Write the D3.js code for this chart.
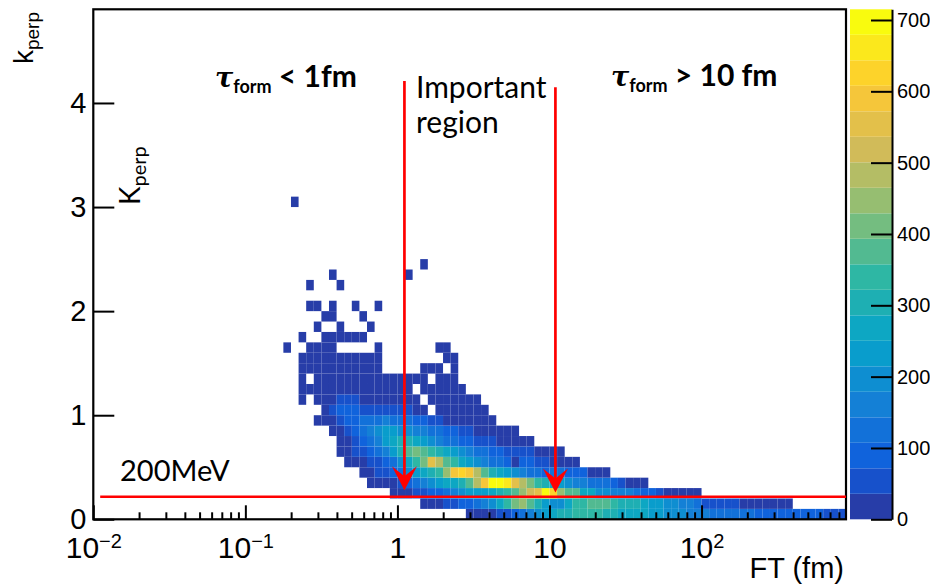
<!DOCTYPE html>
<html>
<head>
<meta charset="utf-8">
<script src="https://cdn.jsdelivr.net/npm/d3@7"></script>
<style>
  body { margin: 0; background: #fff; }
  svg { display: block; }
</style>
</head>
<body>
<div id="main"></div>
<script>
var ctx = {
    w: 930, h: 586,
    left: 93.3, right: 846, top: 9.3, bottom: 519.3,
    palX0: 850, palX1: 892,
    rootFont: "'Liberation Sans', Arial, sans-serif",
    noteFont: "Lato, 'Open Sans', sans-serif"
};

// binning of the 2D histogram (log x bins, 20 per decade; k_perp bins of 0.1)
var xLow = 0.01, binsPerDecade = 20, nBinsX = 99;
var yBinWidth = 0.1, yMax = 4.9;
var zMax = 715, nContours = 20;

var xMajorTicks = [0.01, 0.1, 1, 10, 100];
var xTickBase = ["10", "10", "1", "10", "10"];
var xTickExp = ["\u22122", "\u22121", "", "", "2"];
var yTicks = [0, 1, 2, 3, 4];
var zTicks = [0, 100, 200, 300, 400, 500, 600, 700];

// first filled x-bin of every k_perp row (row k covers k*0.1 .. (k+1)*0.1)
var rowStart = [49, 43, 39, 36, 35, 33, 32, 32, 31, 29, 30, 27, 27, 27, 27, 27,
                25, 27, 29, 30, 28, 0, 28, 31, 43, 0, 0, 0, 0, 0, 26];
// entries per row (0 = empty cell)
var rowCounts = [
  [6, 14, 22, 30, 48, 62, 85, 120, 150, 190, 225, 262, 290, 310, 330, 345, 342, 336, 318, 300,
   272, 266, 260, 255, 230, 226, 200, 192, 186, 165, 158, 150, 130, 124, 120, 118, 112, 108, 96, 90,
   88, 84, 82, 80, 78, 76, 74, 60, 50, 40],
  [10, 18, 28, 40, 55, 80, 95, 120, 160, 195, 270, 335, 410, 440, 370, 300, 235, 200, 205, 265,
   330, 345, 365, 375, 368, 340, 315, 300, 290, 270, 240, 225, 200, 185, 170, 150, 115, 60, 56, 52,
   50, 48, 34, 32, 30, 28, 26, 24, 20],
  [8, 16, 28, 45, 62, 80, 100, 130, 160, 195, 225, 240, 232, 270, 310, 340, 380, 450, 520, 560,
   700, 620, 440, 375, 365, 280, 260, 200, 190, 170, 160, 150, 125, 100, 85, 55, 30, 25, 20, 15, 10],
  [5, 12, 20, 30, 50, 85, 120, 160, 195, 225, 265, 280, 305, 370, 480, 590, 690, 705, 665, 555,
   485, 410, 335, 300, 265, 230, 195, 165, 150, 130, 120, 110, 90, 55, 30, 20, 12],
  [6, 15, 40, 60, 90, 125, 195, 230, 268, 300, 340, 450, 595, 625, 600, 480, 375, 305, 270, 235,
   200, 160, 130, 115, 100, 110, 108, 90, 80, 75, 30, 20, 12],
  [5, 12, 25, 45, 65, 95, 125, 195, 270, 340, 410, 555, 485, 375, 330, 265, 230, 195, 160, 130,
   115, 90, 30, 80, 75, 55, 45, 30, 22, 15, 8],
  [6, 18, 40, 60, 85, 120, 160, 230, 300, 375, 415, 380, 340, 305, 265, 230, 195, 160, 125, 115,
   95, 80, 65, 55, 48, 40, 30, 22, 14, 8],
  [5, 15, 45, 80, 115, 155, 225, 265, 300, 295, 265, 230, 195, 160, 130, 115, 95, 80, 60, 50,
   40, 30, 22, 15, 10, 5],
  [6, 20, 50, 85, 120, 155, 190, 225, 230, 200, 190, 165, 150, 125, 110, 90, 75, 55, 40, 30,
   22, 16, 10, 6, 3],
  [4, 10, 25, 50, 80, 90, 115, 125, 120, 150, 130, 120, 110, 90, 75, 60, 45, 30, 24, 18,
   12, 8, 5, 3],
  [5, 40, 75, 85, 80, 65, 60, 55, 50, 50, 45, 40, 30, 25, 0, 15, 12, 10, 7, 5, 3, 2],
  [3, 0, 6, 12, 20, 38, 45, 50, 34, 32, 30, 28, 26, 24, 22, 18, 0, 12, 10, 8, 6, 4, 3, 2],
  [2, 4, 6, 9, 12, 15, 18, 20, 18, 16, 15, 14, 12, 11, 9, 0, 6, 5, 4, 3, 2, 1],
  [2, 0, 4, 6, 8, 10, 12, 12, 11, 10, 9, 8, 7, 6, 5, 4, 3, 0, 3, 2, 1],
  [2, 3, 4, 5, 6, 6, 6, 5, 4, 3, 2, 0, 0, 0, 0, 0, 2, 2, 1, 0, 1],
  [1, 2, 3, 3, 4, 4, 3, 3, 2, 2, 1, 0, 0, 0, 0, 0, 0, 0, 0, 1, 1],
  [1, 0, 0, 1, 2, 2, 1, 0, 0, 0, 0, 0, 1, 0, 0, 0, 0, 0, 0, 0, 1, 1],
  [1, 0, 0, 1, 2, 1, 1, 1, 1],
  [1, 0, 0, 1, 0, 0, 0, 1],
  [1, 1, 0, 0, 0, 1],
  [1, 1, 0, 1, 0, 0, 1, 0, 0, 1],
  [],
  [1, 0, 0, 0, 1],
  [1, 0, 0, 0, 0, 0, 0, 0, 0, 0, 1],
  [1],
  [], [], [], [], [],
  [1]
];

// ROOT "kBird" palette stops
var birdStops = [0.0, 0.125, 0.25, 0.375, 0.5, 0.625, 0.75, 0.875, 1.0];
var birdRed   = [0.2082, 0.0592, 0.0780, 0.0232, 0.1802, 0.5301, 0.8186, 0.9956, 0.9764];
var birdGreen = [0.1664, 0.3599, 0.5041, 0.6419, 0.7178, 0.7492, 0.7328, 0.7862, 0.9832];
var birdBlue  = [0.5293, 0.8684, 0.8385, 0.7914, 0.6425, 0.4662, 0.3499, 0.1968, 0.0539];

// annotation anchors in data units
var arrowX = [1.112, 10.94];
var arrowTop = [4.21, 4.15];
var arrowTip = [0.28, 0.258];
var cutKperp = 0.217, cutStart = 0.0111;

var birdColor = function(t){
    var s = d3.scaleLinear().domain(birdStops).clamp(true);
    var r = s.copy().range(birdRed)(t), g = s.copy().range(birdGreen)(t), b = s.copy().range(birdBlue)(t);
    return d3.rgb(Math.round(r*255), Math.round(g*255), Math.round(b*255)).formatHex();
};

var createViz = function(){
    var svg = d3.select("#main").append("svg")
        .attr("width", ctx.w).attr("height", ctx.h);

    var xHigh = xLow * Math.pow(10, nBinsX / binsPerDecade);
    ctx.xScale = d3.scaleLog().domain([xLow, xHigh]).range([ctx.left, ctx.right]);
    ctx.yScale = d3.scaleLinear().domain([0, yMax]).range([ctx.bottom, ctx.top]);
    ctx.zScale = d3.scaleLinear().domain([0, zMax]).range([ctx.bottom, ctx.top]);

    // colour of each contour band as ROOT picks it from the 255-colour table
    var bandColors = d3.range(nContours).map(function(i){
        var idx = Math.floor((i + 0.99) * 255 / nContours);
        return birdColor(Math.min(idx, 254) / 254);
    });
    ctx.color = d3.scaleQuantize().domain([0, zMax]).range(bandColors);

    var xEdge = function(i){ return xLow * Math.pow(10, i / binsPerDecade); };

    // histogram cells
    var cells = [];
    rowCounts.forEach(function(row, k){
        row.forEach(function(c, j){
            if (c > 0){ cells.push({ix: rowStart[k] + j, iy: k, n: c}); }
        });
    });
    svg.append("g").attr("id", "cellsG")
      .selectAll("rect").data(cells).enter().append("rect")
      .attr("x", function(d){ return ctx.xScale(xEdge(d.ix)); })
      .attr("width", function(d){ return ctx.xScale(xEdge(d.ix + 1)) - ctx.xScale(xEdge(d.ix)); })
      .attr("y", function(d){ return ctx.yScale((d.iy + 1) * yBinWidth); })
      .attr("height", function(d){ return ctx.yScale(d.iy * yBinWidth) - ctx.yScale((d.iy + 1) * yBinWidth); })
      .attr("fill", function(d){ return ctx.color(d.n); });

    // x axis: minor ticks then labelled decades
    var minor = ctx.xScale.ticks().filter(function(v){ return xMajorTicks.indexOf(v) < 0; });
    var xMinorG = svg.append("g")
      .attr("transform", "translate(0," + ctx.bottom + ")")
      .call(d3.axisBottom(ctx.xScale).tickValues(minor).tickSize(-7).tickFormat(""));
    var xMajorG = svg.append("g")
      .attr("transform", "translate(0," + ctx.bottom + ")")
      .call(d3.axisBottom(ctx.xScale).tickValues(xMajorTicks).tickSize(-14).tickPadding(17));
    xMajorG.selectAll(".tick text")
      .style("font-family", ctx.rootFont).style("font-size", "30px").attr("fill", "#000")
      .text("")
      .each(function(d, i){
          var t = d3.select(this);
          t.append("tspan").text(xTickBase[i]);
          if (xTickExp[i]){
              t.append("tspan").attr("dy", "-0.5em").style("font-size", "20px").text(xTickExp[i]);
          }
      });

    // y axis
    var yG = svg.append("g")
      .attr("transform", "translate(" + ctx.left + ",0)")
      .call(d3.axisLeft(ctx.yScale).tickValues(yTicks).tickSize(-21).tickPadding(7).tickFormat(d3.format("d")));
    yG.selectAll(".tick text")
      .style("font-family", ctx.rootFont).style("font-size", "29px").attr("fill", "#000");

    [xMinorG, xMajorG, yG].forEach(function(g){
        g.select(".domain").remove();
        g.selectAll(".tick line").attr("stroke", "#000").attr("stroke-width", 2);
    });

    // frame
    svg.append("rect")
      .attr("x", ctx.left).attr("y", ctx.top)
      .attr("width", ctx.right - ctx.left).attr("height", ctx.bottom - ctx.top)
      .attr("fill", "none").attr("stroke", "#000").attr("stroke-width", 2.2);

    // colour palette
    var palG = svg.append("g").attr("id", "palG");
    palG.selectAll("rect").data(bandColors).enter().append("rect")
      .attr("x", ctx.palX0).attr("width", ctx.palX1 - ctx.palX0)
      .attr("y", function(d, i){ return ctx.zScale((i + 1) * zMax / nContours); })
      .attr("height", function(d, i){ return ctx.zScale(i * zMax / nContours) - ctx.zScale((i + 1) * zMax / nContours); })
      .attr("fill", function(d){ return d; });
    var zG = svg.append("g")
      .attr("transform", "translate(" + ctx.palX1 + ",0)")
      .call(d3.axisRight(ctx.zScale).tickValues(zTicks).tickSize(-21).tickSizeOuter(0).tickPadding(5));
    zG.select(".domain").attr("stroke", "#000").attr("stroke-width", 2);
    zG.selectAll(".tick line").attr("stroke", "#000").attr("stroke-width", 2);
    zG.selectAll(".tick text")
      .style("font-family", ctx.rootFont).style("font-size", "20px").attr("fill", "#000");

    // axis titles
    svg.append("text")
      .attr("x", ctx.right - 2).attr("y", 578)
      .attr("text-anchor", "end")
      .style("font-family", ctx.rootFont).style("font-size", "29px")
      .text("FT (fm)");
    var yt = svg.append("text")
      .attr("transform", "translate(33,12) rotate(-90)")
      .attr("text-anchor", "end")
      .style("font-family", ctx.rootFont).style("font-size", "28px");
    yt.append("tspan").text("k");
    yt.append("tspan").attr("dy", 6).style("font-size", "19px").text("perp");

    // red cut line and arrows
    var annG = svg.append("g").attr("id", "annG");
    annG.append("line")
      .attr("x1", ctx.xScale(cutStart)).attr("x2", ctx.right)
      .attr("y1", ctx.yScale(cutKperp)).attr("y2", ctx.yScale(cutKperp))
      .attr("stroke", "#ff0000").attr("stroke-width", 2.6);
    arrowX.forEach(function(v, i){
        var x = ctx.xScale(v), y0 = ctx.yScale(arrowTop[i]), y1 = ctx.yScale(arrowTip[i]);
        annG.append("line")
          .attr("x1", x).attr("x2", x).attr("y1", y0).attr("y2", y1 - 10)
          .attr("stroke", "#ff0000").attr("stroke-width", 2.7);
        annG.append("path")
          .attr("d", "M" + x + "," + y1 + "L" + (x - 12.5) + "," + (y1 - 24) +
                     "L" + x + "," + (y1 - 14) + "L" + (x + 12.5) + "," + (y1 - 24) + "Z")
          .attr("fill", "#ff0000");
    });

    // text notes
    var notes = svg.append("g").style("font-family", ctx.noteFont).attr("fill", "#000");
    var tau = function(x, y, rest){
        var t = notes.append("text").attr("x", x).attr("y", y)
          .style("font-weight", "bold").style("font-size", "30px");
        t.append("tspan").style("font-family", "'DejaVu Serif', serif").style("font-style", "italic")
          .style("font-size", "27px").text("\u03c4");
        t.append("tspan").attr("dy", 6).style("font-size", "18px").text("form");
        t.append("tspan").attr("dy", -6).text(rest);
    };
    tau(215, 87, " < 1fm");
    tau(611, 86, " > 10 fm");
    notes.append("text").attr("x", 416).attr("y", 98).style("font-size", "30px").text("Important");
    notes.append("text").attr("x", 416).attr("y", 133).style("font-size", "30px").text("region");
    notes.append("text").attr("x", 120).attr("y", 481).style("font-size", "29px").text("200MeV");
    var kp = notes.append("text")
      .attr("transform", "translate(140,205) rotate(-90)")
      .style("font-size", "28px");
    kp.append("tspan").text("K");
    kp.append("tspan").attr("dy", 6).style("font-size", "20px").text("perp");
};

createViz();
</script>
</body>
</html>
